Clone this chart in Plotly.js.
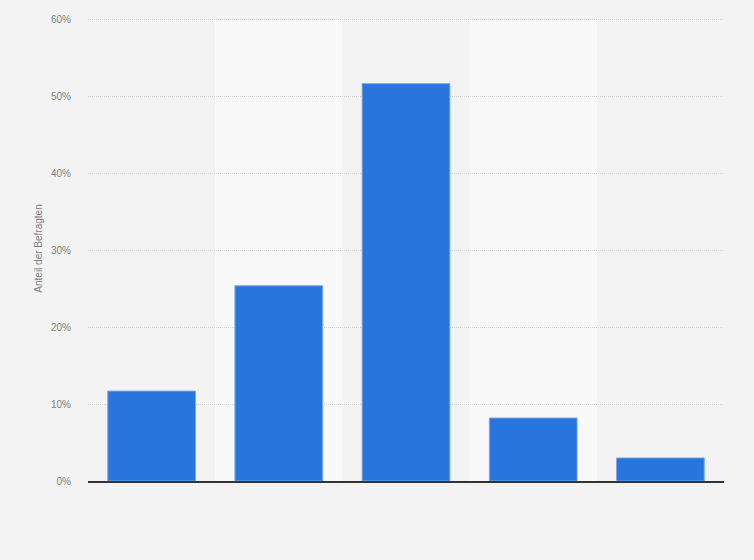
<!DOCTYPE html>
<html>
<head>
<meta charset="utf-8">
<script src="https://cdn.plot.ly/plotly-3.0.1.min.js"></script>
<style>
  html, body { margin: 0; padding: 0; background: #f3f3f3; }
  #chart { width: 754px; height: 560px; }
</style>
</head>
<body>
<div id="chart"></div>
<script>
// Werte (Anteil in %)
var categories = ["A", "B", "C", "D", "E"];
var values = [11.7, 25.4, 51.7, 8.2, 3.0];
var tickValues = [0, 10, 20, 30, 40, 50, 60];
var tickLabels = ["0%", "10%", "20%", "30%", "40%", "50%", "60%"];

// hellere Streifen hinter jeder zweiten Kategorie
var shapes = [];
for (let i = 1; i < categories.length; i += 2) {
    shapes.push({
        type: "rect",
        xref: "x",
        yref: "y",
        x0: i - 0.5,
        x1: i + 0.5,
        y0: 0,
        y1: 60,
        fillcolor: "#f9f9f9",
        line: {width: 0},
        layer: "below"
    });
}

var trace = {
    type: "bar",
    x: categories,
    y: values,
    marker: {
        color: "#2876dd",
        line: {color: "#7aa9ea", width: 1}
    },
    hoverinfo: "y"
};

var layout = {
    width: 754,
    height: 560,
    margin: {l: 88, r: 30, t: 16, b: 79},
    paper_bgcolor: "#f3f3f3",
    plot_bgcolor: "#f3f3f3",
    bargap: 0.31,
    showlegend: false,
    font: {family: "Liberation Sans, Arial, sans-serif", color: "#808080", size: 10},
    xaxis: {
        showticklabels: false,
        showgrid: false,
        zeroline: false,
        showline: true,
        linecolor: "#333333",
        linewidth: 1.5,
        ticks: ""
    },
    yaxis: {
        range: [0, 60.5],
        tickvals: tickValues,
        ticktext: tickLabels,
        showgrid: true,
        gridcolor: "#d6d6d6",
        griddash: "1px,1px",
        gridwidth: 1,
        zeroline: false,
        showline: false,
        ticks: "",
        ticklabelstandoff: 16,
        title: {text: "Anteil der Befragten", font: {size: 10, color: "#808080"}, standoff: 6}
    },
    shapes: shapes
};

Plotly.newPlot("chart", [trace], layout, {displayModeBar: false, staticPlot: true});
</script>
</body>
</html>
